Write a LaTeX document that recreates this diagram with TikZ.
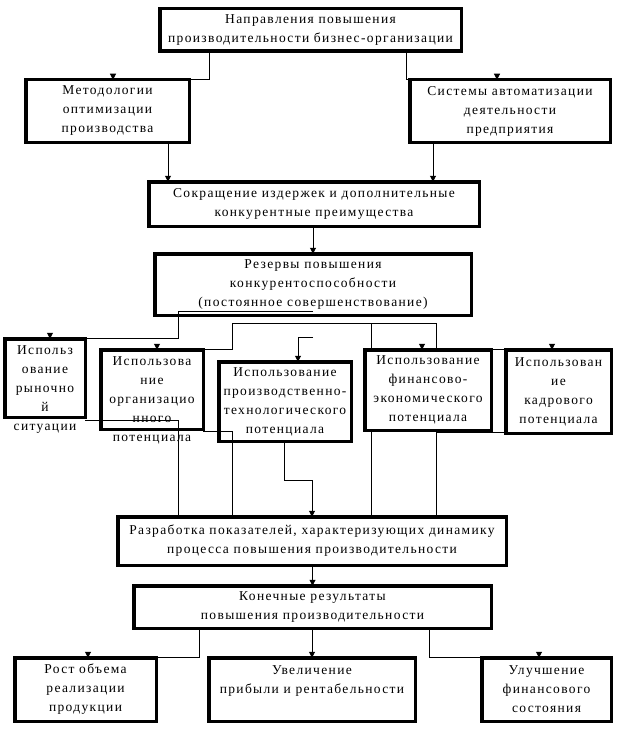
\documentclass[tikz,border=0pt]{standalone}
\usepackage{fontspec}
\setmainfont{Liberation Serif}[LetterSpace=10]
\usetikzlibrary{arrows.meta,calc}
\newcommand\boxfont{\fontsize{13.5}{19}\selectfont}
\newcommand\tipdown[1]{\draw[tip] ($(#1)+(0,-1)$) -- (#1);}
\tikzset{
  box/.style={draw, line width=3.5pt, outer sep=0pt, inner sep=0pt, align=center, font=\boxfont},
  txt/.style={inner sep=0pt, align=center, font=\boxfont},
  ln/.style={line width=1pt},
  tip/.style={line width=1pt, -{Triangle[length=6pt,width=6pt]}},
}
\begin{document}
\begin{tikzpicture}[x=1pt,y=-1pt]
\useasboundingbox (0,0) rectangle (622,733);
% boxes
\node[box, minimum width=301.5, minimum height=42.5] (top) at (310.5,30) {Направления повышения\\производительности бизнес-организации};
\node[box, minimum width=163.5, minimum height=62.5] (met) at (107.5,111) {Методологии\\оптимизации\\производства};
\node[box, minimum width=200.5, minimum height=62.5] (sys) at (510,111) {Системы автоматизации\\деятельности\\предприятия};
\node[box, minimum width=330.5, minimum height=44.5] (sok) at (314,204) {Сокращение издержек и дополнительные\\конкурентные преимущества};
\node[box, minimum width=316.5, minimum height=61.5] (rez) at (313,284.5) {Резервы повышения\\конкурентоспособности\\(постоянное совершенствование)};
\node[box, minimum width=80.5, minimum height=78.5] (u1) at (45,378) {};
\node[box, minimum width=102.5, minimum height=79.5] (u2) at (152,389.5) {};
\node[box, minimum width=132.5, minimum height=79.5] (u3) at (285,401.5) {Использование\\производственно-\\технологического\\потенциала};
\node[box, minimum width=126.5, minimum height=80.5] (u4) at (428,390) {Использование\\финансово-\\экономического\\потенциала};
\node[box, minimum width=105.5, minimum height=83.5] (u5) at (558.5,391.5) {Использован\\ие\\кадрового\\потенциала};
\node[box, minimum width=388.5, minimum height=48.5] (raz) at (312,541) {Разработка показателей, характеризующих динамику\\процесса повышения производительности};
\node[box, minimum width=357.5, minimum height=42.5] (kon) at (312.5,607) {Конечные результаты\\повышения производительности};
\node[box, minimum width=141.5, minimum height=63.5] (rost) at (85.5,689.5) {Рост объема\\реализации\\продукции};
\node[box, minimum width=206.5, minimum height=63.5] (uvel) at (312,689.5) {Увеличение\\прибыли и рентабельности\\~};
\node[box, minimum width=129.5, minimum height=63.5] (ulu) at (546.5,689.5) {Улучшение\\финансового\\состояния};
% texts of the first two boxes of the middle row
\node[txt] (t1) at (45,389.5) {Использ\\ование\\рыночно\\й\\ситуации};
\node[txt] (t2) at (152,400) {Использова\\ние\\организацио\\нного\\потенциала};
% coordinates
\coordinate (e1) at ($(met.north)+(5.5,0)$);
\coordinate (e2) at ($(sys.north)+(-13,0)$);
\coordinate (s6) at ($(rez.south)+(0,-4)$);
\coordinate (k6) at (178,338.75);
\coordinate (e6) at ($(u1.north)+(5,0)$);
\coordinate (h1) at (232,323);
\coordinate (h2) at (371,323);
\coordinate (h3) at (436,323);
\coordinate (e7a) at ($(u2.north)+(5,0)$);
\coordinate (e7b) at ($(u4.north)+(-6,0)$);
\coordinate (e7c) at ($(u5.north)+(-6.5,0)$);
\coordinate (s8) at (313,337);
\coordinate (e8) at ($(u3.north)+(13,0)$);
\coordinate (ek2) at ($(rost.north)+(2.5,0)$);
\coordinate (ek4) at ($(ulu.north)+(-7.5,0)$);
% top connectors
\draw[ln] (top.south -| 209,0) |- (e1); \tipdown{e1}
\draw[ln] (top.south -| 406,0) |- (e2); \tipdown{e2}
\draw[tip] (met.south -| 168,0) -- (sok.north -| 168,0);
\draw[tip] (sys.south -| 433,0) -- (sok.north -| 433,0);
\draw[tip] (sok.south -| rez.north) -- (rez.north);
% from reserves
\draw[ln] (s6) -| (k6) -- (e6); \tipdown{e6}
\draw[ln] (h1) -- (h3);
\draw[ln] (h1) |- (e7a); \tipdown{e7a}
\draw[ln] (h2) |- (e7b); \tipdown{e7b}
\draw[ln] (h3) |- (e7c); \tipdown{e7c}
\draw[ln] (s8) -| (e8); \tipdown{e8}
% to development box
\draw[ln] ($(u1.south east)+(0,3)$) -| (raz.north -| 178,0);
\draw[ln] ($(u2.south east)+(0,2)$) -| (raz.north -| 232,0);
\draw[ln] (u3.south -| 284,0) |- (raz.north |- 0,480);
\draw[tip] (raz.north |- 0,480) -- (raz.north);
\draw[ln] (u4.south -| 371,0) -- (raz.north -| 371,0);
\draw[ln] (u5.west |- 0,432) -| (raz.north -| 436,0);
% final results
\draw[tip] (raz.south -| kon.north) -- (kon.north);
\draw[ln] (kon.south -| 199,0) |- (ek2); \tipdown{ek2}
\draw[tip] (kon.south -| uvel.north) -- (uvel.north);
\draw[ln] (kon.south -| 429,0) |- (ek4); \tipdown{ek4}
\end{tikzpicture}
\end{document}
